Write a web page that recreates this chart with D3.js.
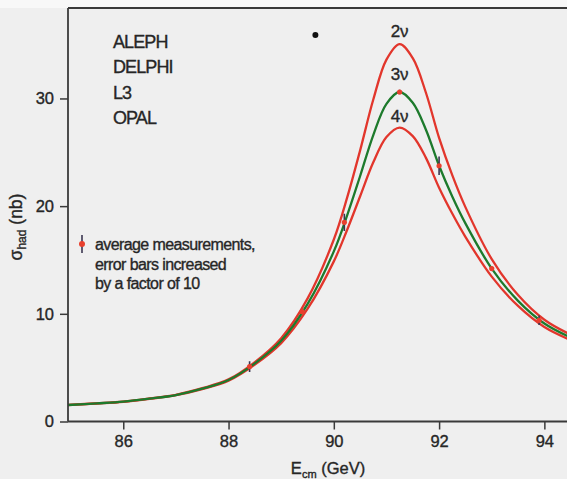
<!DOCTYPE html>
<html><head><meta charset="utf-8">
<script src="https://cdn.jsdelivr.net/npm/d3@7"></script>
<style>
html,body{margin:0;padding:0;background:#efefef;}
svg{display:block;}
text{font-family:"Liberation Sans",Arial,sans-serif;fill:#262626;stroke:#262626;stroke-width:0.35px;}
</style></head>
<body>
<script>
// ---- data ----
const energies = [84.95, 85.5, 86, 86.5, 87, 87.5, 88, 88.5, 89, 89.5, 90, 90.25, 90.5, 90.75, 91, 91.25, 91.5, 91.75, 92, 92.25, 92.5, 93, 93.5, 94, 94.5];
const sigma2nu = [1.54, 1.69, 1.85, 2.14, 2.48, 3.09, 3.91, 5.52, 7.74, 11.41, 16.9, 20.74, 25.18, 29.9, 33.61, 35.05, 33.74, 30.53, 26.34, 22.88, 19.91, 15.08, 11.74, 9.45, 8.06];
const sigma3nu = [1.53, 1.68, 1.84, 2.12, 2.46, 3.05, 3.85, 5.4, 7.5, 10.9, 15.8, 19.1, 22.8, 26.6, 29.5, 30.6, 29.6, 27.1, 23.75, 20.9, 18.4, 14.2, 11.2, 9.1, 7.8];
const sigma4nu = [1.52, 1.67, 1.83, 2.10, 2.44, 3.01, 3.79, 5.29, 7.28, 10.45, 14.87, 17.76, 20.92, 24.07, 26.42, 27.3, 26.5, 24.48, 21.71, 19.31, 17.15, 13.45, 10.73, 8.78, 7.57];
const measE = [88.4, 89.4, 90.2, 91.25, 92.0, 93.0, 93.9];
const measSigma = [5.1, 10.2, 18.5, 30.6, 23.75, 14.2, 9.4];
const measErr = [0.5, 0.2, 0.8, 0.2, 0.85, 0.2, 0.45];
const curveLabels = ["2ν", "3ν", "4ν"];
const curveLabelPos = [{e: 91.25, s: 36.1}, {e: 91.25, s: 32.1}, {e: 91.25, s: 28.2}];
const experiments = ["ALEPH", "DELPHI", "L3", "OPAL"];
const legendText = ["average measurements,", "error bars increased", "by a factor of 10"];
const xTicks = [86, 88, 90, 92, 94];
const yTicks = [0, 10, 20, 30];
const strayDot = [{e: 89.65, s: 35.9}];

const W = 567, H = 479;
const svg = d3.select("body").append("svg").attr("width", W).attr("height", H);
svg.append("rect").attr("width", W).attr("height", H).attr("fill", "#efefef");
svg.append("rect").attr("width", W).attr("height", 8).attr("fill", "#f8f8f8");

const x = d3.scaleLinear().domain([84.95, 94.43]).range([68, 567]);
const y = d3.scaleLinear().domain([0, 38.4]).range([421.5, 8]);

// curves
const line = d3.line().x(d => x(d[0])).y(d => y(d[1])).curve(d3.curveCatmullRom.alpha(0.5));
const mk = arr => energies.map((e, i) => [e, arr[i]]);
const curves = [
  {data: mk(sigma2nu), color: "#e2362c"},
  {data: mk(sigma4nu), color: "#e2362c"},
  {data: mk(sigma3nu), color: "#1d7a2c"}
];
svg.append("clipPath").attr("id", "clip").append("rect")
  .attr("x", 68).attr("y", 8).attr("width", W - 68).attr("height", 421.5 - 8);
const g = svg.append("g").attr("clip-path", "url(#clip)");
curves.forEach(c => {
  g.append("path").attr("d", line(c.data)).attr("fill", "none")
    .attr("stroke", c.color).attr("stroke-width", 2.3);
});

// measurements
measE.forEach((e, i) => {
  g.append("line").attr("x1", x(e)).attr("x2", x(e))
    .attr("y1", y(measSigma[i] - measErr[i])).attr("y2", y(measSigma[i] + measErr[i]))
    .attr("stroke", "#3a3550").attr("stroke-width", 1.6);
  g.append("circle").attr("cx", x(e)).attr("cy", y(measSigma[i])).attr("r", 2.6).attr("fill", "#e8402e");
});

// axes
const yAxis = d3.axisLeft(y).tickValues(yTicks).tickSize(8).tickPadding(6).tickFormat(d3.format("d"));
const xAxis = d3.axisBottom(x).tickValues(xTicks).tickSize(8).tickPadding(6).tickFormat(d3.format("d"));
const ya = svg.append("g").attr("transform", "translate(68,0)").call(yAxis);
const xa = svg.append("g").attr("transform", "translate(0,421.5)").call(xAxis);
[ya, xa].forEach(a => {
  a.select(".domain").attr("stroke", "#3a3a3a").attr("stroke-width", 1.8);
  a.selectAll(".tick line").attr("stroke", "#3a3a3a").attr("stroke-width", 1.5);
  a.selectAll(".tick text").attr("font-size", 16.5).attr("fill", "#262626")
    .attr("font-family", "Liberation Sans, Arial, sans-serif");
});
ya.select(".domain").attr("d", "M0,8V421.5");
xa.select(".domain").attr("d", "M68,0H567");
// top frame line
svg.append("line").attr("x1", 68).attr("x2", W).attr("y1", 8).attr("y2", 8)
  .attr("stroke", "#3a3a3a").attr("stroke-width", 2);

// axis titles
const xt = svg.append("text").attr("x", 328).attr("y", 474).attr("text-anchor", "middle").attr("font-size", 16.5);
xt.append("tspan").text("E");
xt.append("tspan").attr("font-size", 11).attr("dy", 4).text("cm");
xt.append("tspan").attr("dy", -4).text(" (GeV)");
const yt = svg.append("text").attr("transform", "translate(22,227) rotate(-90)").attr("text-anchor", "middle").attr("font-size", 17.5);
yt.append("tspan").text("σ");
yt.append("tspan").attr("font-size", 12).attr("dy", 4).text("had");
yt.append("tspan").attr("dy", -4).text(" (nb)");

// curve labels
svg.selectAll(".clab").data(curveLabels).enter().append("text")
  .attr("x", (d, i) => x(curveLabelPos[i].e)).attr("y", (d, i) => y(curveLabelPos[i].s))
  .attr("text-anchor", "middle").attr("dominant-baseline", "middle").attr("font-size", 17).text(d => d);

// experiments
svg.selectAll(".exp").data(experiments).enter().append("text")
  .attr("x", 113).attr("y", (d, i) => 48 + i * 25.3)
  .attr("font-size", 18).attr("letter-spacing", -0.9).text(d => d);

// stray dot
svg.selectAll(".stray").data(strayDot).enter().append("circle")
  .attr("cx", d => x(d.e)).attr("cy", d => y(d.s)).attr("r", 3).attr("fill", "#111");

// legend
svg.selectAll(".leg").data(legendText).enter().append("text")
  .attr("x", 95).attr("y", (d, i) => 250 + i * 19.6)
  .attr("font-size", 16).attr("letter-spacing", -0.6).text(d => d);
svg.append("line").attr("x1", 82).attr("x2", 82).attr("y1", 235).attr("y2", 253)
  .attr("stroke", "#3a3550").attr("stroke-width", 1.6);
svg.append("circle").attr("cx", 82).attr("cy", 244).attr("r", 3).attr("fill", "#e8402e");
</script>
</body></html>
